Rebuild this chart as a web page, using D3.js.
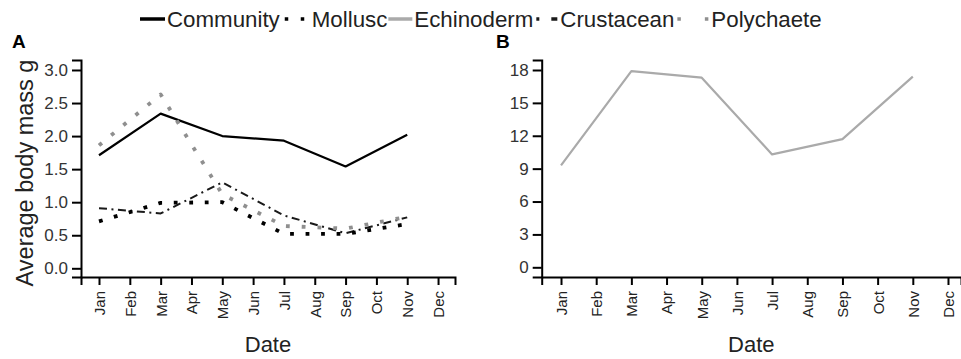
<!DOCTYPE html>
<html><head><meta charset="utf-8">
<script src="https://cdn.jsdelivr.net/npm/d3@7"></script>
<style>body{margin:0;background:#fff;} svg{display:block;font-family:"Liberation Sans",Arial,sans-serif;}</style>
</head><body><svg id="c" width="961" height="359"></svg>
<script>
const months = ["Jan","Feb","Mar","Apr","May","Jun","Jul","Aug","Sep","Oct","Nov","Dec"];
const sampleMonths = ["Jan","Mar","May","Jul","Sep","Nov"];
const community  = [1.71, 2.34, 2.00, 1.93, 1.54, 2.02];
const mollusc    = [0.71, 0.99, 1.00, 0.52, 0.52, 0.67];
const crustacean = [0.91, 0.83, 1.30, 0.80, 0.53, 0.77];
const polychaete = [1.86, 2.63, 1.12, 0.64, 0.60, 0.78];
const echinoderm = [9.3, 17.9, 17.3, 10.3, 11.7, 17.4];
const yTicksA = [0, 0.5, 1.0, 1.5, 2.0, 2.5, 3.0];
const yTicksB = [0, 3, 6, 9, 12, 15, 18];
const legendNames = ["Community","Mollusc","Echinoderm","Crustacean","Polychaete"];

const styles = {
  Community:  {stroke:"#000", width:2.2, dash:null},
  Mollusc:    {stroke:"#000", width:3.8, dash:"3.8,11.7"},
  Echinoderm: {stroke:"#aaaaaa", width:2.2, dash:null},
  Crustacean: {stroke:"#1a1a1a", width:2, dash:"8,4.5,2,4.5"},
  Polychaete: {stroke:"#8f8f8f", width:3.8, dash:"3.8,12"}
};

const svg = d3.select("#c");
const idx = m => months.indexOf(m);

const xA = d3.scaleLinear().domain([-0.584, 11.55]).range([81, 455]);
const yA = d3.scaleLinear().domain([-0.1316, 3.151]).range([277, 60]);
const xB = d3.scaleLinear().domain([-0.549, 11.37]).range([541.7, 961]);
const yB = d3.scaleLinear().domain([-0.885, 18.912]).range([277, 60]);

function drawAxes(x, y, yTicks, fmt) {
  const gx = svg.append("g").attr("transform", `translate(0,${y.range()[0]})`)
    .call(d3.axisBottom(x).tickValues(d3.range(12)).tickFormat(i => months[i]).tickSizeOuter(0).tickSize(8));
  gx.select(".domain").attr("stroke-width", 2);
  gx.selectAll(".tick line").attr("stroke-width", 2);
  gx.selectAll(".tick text")
    .attr("transform", "rotate(-90)")
    .attr("text-anchor", "end")
    .attr("x", -14).attr("y", 0).attr("dy", "0.36em")
    .attr("font-size", 15).attr("fill", "#222")
    .style("font-family", "Liberation Sans, Arial, sans-serif");
  const gy = svg.append("g").attr("transform", `translate(${x.range()[0]},0)`)
    .call(d3.axisLeft(y).tickValues(yTicks).tickFormat(fmt).tickSizeOuter(0).tickSize(9).tickPadding(4));
  gy.select(".domain").attr("stroke-width", 2);
  gy.selectAll(".tick line").attr("stroke-width", 2);
  gy.selectAll(".tick text").attr("font-size", 17).attr("fill", "#333")
    .style("font-family", "Liberation Sans, Arial, sans-serif");
  svg.append("text").attr("x", (x.range()[0] + x.range()[1]) / 2).attr("y", 352)
    .attr("text-anchor", "middle").attr("font-size", 22).attr("fill", "#222").text("Date");
}

drawAxes(xA, yA, yTicksA, d3.format(".1f"));
drawAxes(xB, yB, yTicksB, d3.format("d"));

svg.append("text").attr("transform", "translate(33,173) rotate(-90)")
  .attr("text-anchor", "middle").attr("font-size", 23.5).attr("fill", "#222").text("Average body mass g");

svg.append("text").attr("x", 12).attr("y", 48).attr("font-size", 19).attr("font-weight", "bold").text("A");
svg.append("text").attr("x", 496).attr("y", 48).attr("font-size", 19).attr("font-weight", "bold").text("B");

function drawSeries(name, vals, x, y) {
  const st = styles[name];
  const line = d3.line().x((d, i) => x(idx(sampleMonths[i]))).y(d => y(d));
  svg.append("path").datum(vals).attr("d", line)
    .attr("fill", "none").attr("stroke", st.stroke).attr("stroke-width", st.width)
    .attr("stroke-dasharray", st.dash).attr("stroke-linecap", "butt").attr("stroke-linejoin", "round");
}
drawSeries("Community", community, xA, yA);
drawSeries("Crustacean", crustacean, xA, yA);
drawSeries("Polychaete", polychaete, xA, yA);
drawSeries("Mollusc", mollusc, xA, yA);
drawSeries("Echinoderm", echinoderm, xB, yB);

// Legend
let lx = 140;
const ly = 27;
const keyW = {Community:25, Mollusc:29, Echinoderm:24, Crustacean:24, Polychaete:34};
const keyDash = {Community:null, Mollusc:"3.5,12.5", Echinoderm:null, Crustacean:"3,12,6,20", Polychaete:"3.5,24"};
const keyOffset = {Community:0, Mollusc:-4, Echinoderm:0, Crustacean:-2, Polychaete:-2};
legendNames.forEach(name => {
  const st = styles[name];
  const kw = keyW[name];
  svg.append("line").attr("x1", lx).attr("x2", lx + kw).attr("y1", ly - 8).attr("y2", ly - 8)
    .attr("stroke", st.stroke).attr("stroke-width", name === "Community" ? 3.5 : (st.dash ? 3.5 : 3.5))
    .attr("stroke-dasharray", keyDash[name]).attr("stroke-dashoffset", keyOffset[name]);
  const t = svg.append("text").attr("x", lx + kw + 2).attr("y", ly)
    .attr("font-size", 22.3).attr("fill", "#222").text(name);
  lx = lx + kw + 2 + t.node().getComputedTextLength() + 1;
});
</script></body></html>
